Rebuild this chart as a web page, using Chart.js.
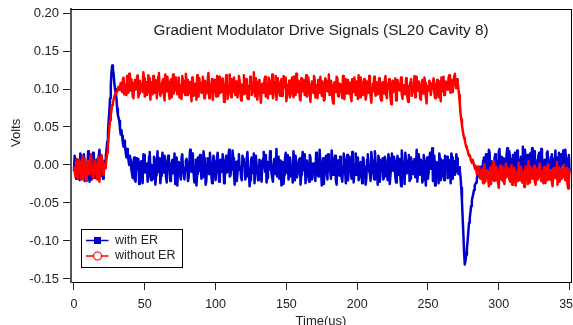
<!DOCTYPE html>
<html>
<head>
<meta charset="utf-8">
<script src="https://cdn.jsdelivr.net/npm/chart.js@4"></script>
<style>
html,body{margin:0;padding:0;background:#fff}
#wrap{width:573px;height:325px}
</style>
</head>
<body>
<div id="wrap"><canvas id="c" width="573" height="325"></canvas></div>
<script>
const chartTitle = 'Gradient Modulator Drive Signals (SL20 Cavity 8)';
const xAxisTitle = 'Time(us)';
const yAxisTitle = 'Volts';
const seriesLabels = ['with ER', 'without ER'];
const seriesColors = ['#0000cc', '#ff0000'];
const xTickValues = [0, 50, 100, 150, 200, 250, 300, 350];
const yTickValues = [-0.15, -0.10, -0.05, 0.00, 0.05, 0.10, 0.15, 0.20];
// Values in millivolts.
// "*_mV" arrays: samples at t = 0, 1, 2 ... 350 us
// "*_half_mV" arrays: samples at t = 0.5, 1.5 ... 349.5 us
const sampleStartUs = 0;
const sampleStepUs = 1;

const withER_mV = [
  -8, 6, -15, 2, -20, 10, -5, 14, -12, 0, 18, -22, 4, -9, 12, -17, 7, -3, 20, -14,
  3, -10,
  6, 20, 42, 72, 104, 131, 120, 100, 88, 66, 58, 40, 38, 24, 26, 10, 16, 0, 7,
  -12, 5, -20, 9, -6, -25, 3, -15, 14, -9, -2, -22, 11, -7, 0, -18, 6, -13, 18, -4,
  -24, 2, -10, 12, -16, -3, 8, -21, 1, -11, 15, -6, -27, 4, -14, 10, -8, -19, 6, -2,
  -16, 20, -9, 3, -23, 7, -12, -1, 13, -18, -5, 9, -26, 2, -8, 16, -13, -3, 5, -20,
  11, -7, -17, 1, 14, -24, 4, -10, 8, -15, -2, 19, -12, 3, -21, 6, -6, -16, 12, -1,
  -19, 9, -4, -28, 5, -11, 15, -8, -1, -20, 7, -13, 2, 17, -9, -23, 4, -5, 10, -17,
  0, -12, 21, -6, -18, 6, -3, -25, 8, -10, 13, -15, 1, -7, 18, -20, 3, -11, 7, -26,
  5, -4, 14, -14, -1, -22, 10, -8, 2, -17, 16, -5, -12, 4, -27, 9, -3, 12, -19, 0,
  -9, 19, -13, 5, -21, 2, -6, 11, -16, -2, 8, -24, 13, -7, -1, -18, 6, -11, 15, -4,
  -20, 3, -9, 10, -14, -26, 7, 1, -12, 17, -5, -19, 4, -8, 12, -22, -2, 9, -15, 6,
  -10, 14, -25, 0, -6, 11, -17, 3, -13, 8, -28, 5, -4, 16, -11, -1, -21, 10, -7, 2,
  -16, 20, -9, -3, 7, -23, 13, -12, 1, -18, 9, -5, 22, -14, -27, 4, -8, 15, -20, 3,
  -11, 12, -6, -17, 6, -24, 10, -2, -13, 14, -7,
  -3, -16, -48, -92, -131, -118, -100, -76, -62, -46, -38, -27, -23, -12, -15, -4, -9, 6,
  -8, 14, -3, 20, -12, 5, -18, 9, 2, -15, 17, -6, 11, -21, 4, -10, 22, -2, 8, -17,
  13, -5, 1, 19, -13, 7, -9, 24, -4, 10, -19, 3, 15, -8, -1, 18, -14, 6, 12, -11,
  21, -3, 4, -16, 16, 0, -9, 11, -20, 8, 19, -6, 2, -12, 14, 5, -15, 20, -4, 9, -10
];

const withER_half_mV = [
  12, -18, 5, -7, 15, -13, 9, -21, 3, -6, -11, 8, -19, 16, -2, 4, -14, 11, -8, 2,
  -18, 5,
  12, 31, 58, 88, 122, 126, 108, 95, 74, 62, 48, 46, 30, 32, 17, 21, 6, 12,
  -5, -17, 10, -22, 0, 8, -13, 5, -24, 13, -10, 2, -16, 17, -20, -4, 11, -26, 3, -9,
  9, -14, 16, -7, 4, -23, 12, -2, -17, 7, -9, -25, 10, -4, 1, -19, 14, -12, -3, 8,
  -21, 5, -6, 15, -11, -2, -27, 10, -8, 4, -16, 18, -3, -20, 9, -12, 2, -24, 12, -7,
  -3, 16, -22, 7, -9, 1, -18, 12, -5, 20, -14, -6, 9, -26, 4, -11, 14, -2, -20, 8,
  3, -15, 17, -8, -20, 10, -3, -24, 12, -6, -14, 5, -22, 8, -2, 13, -17, -7, 18, -11,
  -22, 8, -1, -15, 11, -9, -27, 4, -13, 16, -4, -19, 10, -6, -23, 2, 12, -16, -5, 9,
  -13, 17, -7, -24, 6, -10, 13, -19, 1, -3, -21, 9, -15, 20, -8, -2, -25, 5, -11, 14,
  2, -18, 8, -10, 12, -26, 6, -14, 3, -22, 15, -9, -4, -20, 11, -7, 17, -23, 1, -13,
  10, -16, 4, -24, 9, -2, -17, 14, -8, -21, 6, -12, 18, -3, -26, 7, -10, 2, -19, 11,
  -5, -20, 9, -14, 15, -8, 3, -23, 12, -4, -16, 19, -10, -25, 6, -2, 13, -18, 4, -12,
  8, -6, -22, 14, -13, 3, -19, 5, -27, 10, -9, 16, -3, -21, 12, -7, 1, -24, 8, -15,
  6, -20, 2, 11, -13, -4, 15, -18, 5, -9, 9,
  -12, -8, -30, -70, -115, -126, -110, -88, -70, -54, -42, -33, -25, -19, -9, -14, -2, -6,
  10, -15, 7, -6, 17, -10, 1, -20, 14, 6, -12, 21, -4, -16, 9, -1, 13, -8, 18, -3,
  -14, 8, 16, -9, 4, -17, 11, 2, -11, 20, -6, 13, -15, 5, 22, -7, 9, -18, 3, 16,
  -5, 12, -13, 7, -1, 18, -12, 5, 14, -8, 3, -17, 10, 16, -9, 1, 19, -11, 7, -2, 13
];

const withoutER_mV = [
  -2, -15, 8, -10, 3, -19, 12, -6, -1, -20, 5, -12, 14, -8, -17, 2, -5, 10, -22, -3,
  6, -13, -4,
  8, 26, 50, 66, 79, 86, 93, 95, 101, 99,
  108, 96, 115, 101, 92, 110, 120, 98, 105, 88, 112, 103, 118, 94, 107, 100, 122, 90, 109, 97,
  114, 86, 104, 117, 95, 108, 99, 121, 91, 106, 113, 85, 102, 116, 96, 110, 89, 119, 101, 107,
  93, 115, 98, 87, 111, 104, 120, 92, 100, 109, 84, 113, 97, 106, 118, 90, 103, 95, 116, 88,
  108, 99, 121, 94, 105, 86, 112, 102, 117, 91, 107, 97, 114, 83, 104, 110, 96, 119, 89, 101,
  115, 92, 106, 98, 111, 85, 103, 118, 94, 109, 87, 100, 113, 96, 122, 90, 105, 99, 112, 82,
  107, 95, 116, 101, 88, 110, 97, 119, 93, 104, 86, 114, 99, 108, 91, 117, 102, 84, 106, 111,
  94, 115, 89, 103, 120, 96, 108, 85, 101, 112, 92, 118, 98, 105, 83, 110, 95, 113, 100, 88,
  107, 116, 91, 102, 86, 111, 97, 119, 93, 104, 81, 109, 99, 114, 90, 106, 96, 117, 87, 101,
  112, 94, 108, 84, 103, 115, 92, 100, 118, 89, 105, 97, 113, 86, 110, 95, 102, 82, 107, 116,
  91, 104, 99, 112, 85, 109, 94, 117, 88, 101, 106, 80, 111, 96, 114, 90, 103, 98, 115, 87,
  105, 93, 110, 83, 100, 113, 95, 107, 89, 116, 98, 102, 86, 112, 94, 108, 81, 104, 111, 92,
  100, 114, 88, 106, 97, 110, 84, 103, 116, 93, 108, 99, 118, 95, 112, 106, 120, 101, 107,
  92, 68, 52, 40, 33, 24, 19, 12, 9, 3, 4, -4, -2, -10,
  -2, -18, -6, -24, 1, -14, -9, -28, -3, -16, 4, -21, -7, -12, -30, -1, -19, -5, -25, 2,
  -13, -8, -22, 0, -17, -4, -27, -11, 3, -20, -6, -15, -29, -2, -10, 5, -23, -9, -18, -1,
  -26, -5, -14, 2, -21, -8, -3, -24, -12, 1, -19, -7, -28, -4, -16, 4, -11, -22, -6, -13,
  0, -20, -9, -31, -5
];

const withoutER_half_mV = [
  -9, 4, -18, 7, -6, 0, -14, 9, -21, 1, -8, 11, -4, -16, 6, -11, -19, 3, -7, 13,
  -10, 2, 1,
  16, 38, 59, 73, 83, 90, 95, 98, 103, 102,
  100, 112, 93, 106, 117, 95, 103, 113, 90, 108, 99, 116, 89, 111, 104, 96, 114, 102, 92, 118,
  98, 109, 93, 103, 112, 88, 116, 101, 96, 110, 92, 119, 97, 106, 87, 113, 104, 94, 115, 100,
  110, 89, 105, 117, 96, 92, 108, 112, 94, 101, 115, 91, 107, 86, 99, 114, 97, 109, 102, 111,
  94, 115, 88, 106, 113, 97, 103, 90, 108, 116, 95, 111, 99, 92, 118, 87, 105, 100, 113, 96,
  102, 110, 89, 117, 97, 106, 93, 101, 113, 88, 104, 116, 92, 108, 98, 114, 86, 110, 95, 103,
  99, 112, 90, 106, 115, 94, 103, 88, 109, 117, 97, 101, 91, 113, 96, 104, 115, 93, 99, 89,
  107, 98, 116, 92, 104, 111, 87, 114, 97, 103, 108, 90, 115, 94, 106, 100, 117, 89, 105, 112,
  95, 103, 110, 85, 114, 99, 106, 92, 111, 88, 104, 96, 116, 91, 107, 100, 88, 109, 113, 94,
  101, 107, 89, 113, 96, 104, 110, 87, 102, 115, 92, 108, 99, 94, 105, 117, 90, 103, 97, 100,
  109, 93, 114, 88, 103, 98, 111, 92, 107, 113, 90, 102, 96, 108, 85, 112, 100, 106, 93, 104,
  97, 114, 89, 104, 109, 91, 101, 117, 95, 99, 110, 88, 106, 96, 115, 90, 103, 98, 107, 101,
  109, 95, 104, 112, 89, 101, 115, 97, 92, 110, 103, 114, 100, 109, 96, 117, 108, 113, 100,
  80, 60, 46, 36, 28, 22, 15, 13, 5, 7, 0, -6, -12, -4,
  -15, -10, -19, -4, -22, -7, -17, -12, -25, -6, -13, -20, -3, -24, -9, -14, -2, -21, -11, -16,
  -4, -19, -12, -26, -7, -15, -9, -21, -14, -2, -23, -10, -6, -18, -25, -12, -3, -16, -8, -22,
  -11, -19, -6, -16, -9, -24, -14, -2, -20, -8, -13, -22, -5, -17, -10, -26, -3, -15, -18, -8,
  -14, -4, -25, -19
];

const FONT = '"Liberation Sans", Arial, sans-serif';

// merge the whole-microsecond and half-microsecond samples into one time series
function toPoints(whole, half) {
  const pts = [];
  whole.forEach((mv, i) => {
    const t = sampleStartUs + i * sampleStepUs;
    pts.push({ x: t, y: mv / 1000 });
    if (i < half.length) pts.push({ x: t + sampleStepUs / 2, y: half[i] / 1000 });
  });
  return pts;
}

const overlay = {
  id: 'overlay',
  afterDraw(chart) {
    const { ctx, chartArea: a } = chart;
    ctx.save();
    ctx.strokeStyle = '#000';
    ctx.lineWidth = 1;
    ctx.beginPath();
    ctx.moveTo(a.left, a.top + 0.5);
    ctx.lineTo(a.right + 1, a.top + 0.5);
    ctx.moveTo(a.right + 0.5, a.top);
    ctx.lineTo(a.right + 0.5, a.bottom);
    ctx.stroke();
    ctx.fillStyle = '#222';
    ctx.font = '15.3px ' + FONT;
    ctx.textAlign = 'center';
    ctx.textBaseline = 'middle';
    ctx.fillText(chartTitle, (a.left + a.right) / 2, 31);
    const lx = 81, ly = 229, lw = 102, lh = 39;
    ctx.fillStyle = '#fff';
    ctx.fillRect(lx, ly, lw, lh);
    ctx.strokeStyle = '#000';
    ctx.lineWidth = 1;
    ctx.strokeRect(lx + 0.5, ly + 0.5, lw - 1, lh - 1);
    const rows = [240.5, 256];
    chart.data.datasets.forEach((ds, i) => {
      const yy = rows[i];
      ctx.strokeStyle = ds.borderColor;
      ctx.lineWidth = 1.5;
      ctx.beginPath();
      ctx.moveTo(86, yy);
      ctx.lineTo(108.5, yy);
      ctx.stroke();
      if (i === 0) {
        ctx.fillStyle = ds.borderColor;
        ctx.fillRect(94, yy - 3.5, 7, 7);
      } else {
        ctx.fillStyle = '#fff';
        ctx.lineWidth = 1.2;
        ctx.beginPath();
        ctx.arc(97.5, yy, 4, 0, Math.PI * 2);
        ctx.fill();
        ctx.stroke();
      }
      ctx.fillStyle = '#222';
      ctx.font = '12.5px ' + FONT;
      ctx.textAlign = 'left';
      ctx.textBaseline = 'middle';
      ctx.fillText(ds.label, 115, yy);
    });
    ctx.restore();
  }
};

new Chart(document.getElementById('c'), {
  type: 'line',
  data: {
    datasets: [
      {
        label: seriesLabels[0],
        data: toPoints(withER_mV, withER_half_mV),
        borderColor: seriesColors[0],
        backgroundColor: seriesColors[0],
        borderWidth: 2.5,
        pointRadius: 0,
        tension: 0,
        borderJoinStyle: 'round',
        order: 2
      },
      {
        label: seriesLabels[1],
        data: toPoints(withoutER_mV, withoutER_half_mV),
        borderColor: seriesColors[1],
        backgroundColor: seriesColors[1],
        borderWidth: 2.5,
        pointRadius: 0,
        tension: 0,
        borderJoinStyle: 'round',
        order: 1
      }
    ]
  },
  options: {
    responsive: false,
    animation: false,
    devicePixelRatio: 1,
    parsing: false,
    layout: { padding: { top: 9, right: 2, left: 0, bottom: 0 } },
    plugins: {
      legend: { display: false },
      title: { display: false },
      tooltip: { enabled: false }
    },
    scales: {
      x: {
        type: 'linear',
        min: -2.1,
        max: 351,
        afterBuildTicks: s => { s.ticks = xTickValues.map(v => ({ value: v })); },
        afterFit: s => { s.height = 43; s.paddingLeft = 0; s.paddingRight = 0; },
        ticks: {
          callback: v => String(v),
          font: { family: FONT, size: 12.5 },
          color: '#222',
          padding: 7,
          maxRotation: 0,
          autoSkip: false
        },
        grid: { display: true, drawOnChartArea: false, drawTicks: true, tickLength: 8, tickColor: '#222', tickWidth: 1 },
        border: { display: true, color: '#000', width: 1 },
        title: { display: true, text: xAxisTitle, font: { family: FONT, size: 13 }, color: '#222', padding: { top: 0, bottom: -4 } }
      },
      y: {
        type: 'linear',
        min: -0.154,
        max: 0.2053,
        afterBuildTicks: s => { s.ticks = yTickValues.map(v => ({ value: v })); },
        afterFit: s => { s.width = 71; s.paddingTop = 0; s.paddingBottom = 0; },
        ticks: {
          callback: v => Number(v).toFixed(2),
          font: { family: FONT, size: 13 },
          color: '#222',
          padding: 4
        },
        grid: { display: true, drawOnChartArea: false, drawTicks: true, tickLength: 8, tickColor: '#222', tickWidth: 1 },
        border: { display: true, color: '#555', width: 2 },
        title: { display: true, text: '       ' + yAxisTitle, font: { family: FONT, size: 13 }, color: '#222', padding: { top: 9, bottom: 0 } }
      }
    }
  },
  plugins: [overlay]
});
</script>
</body>
</html>
